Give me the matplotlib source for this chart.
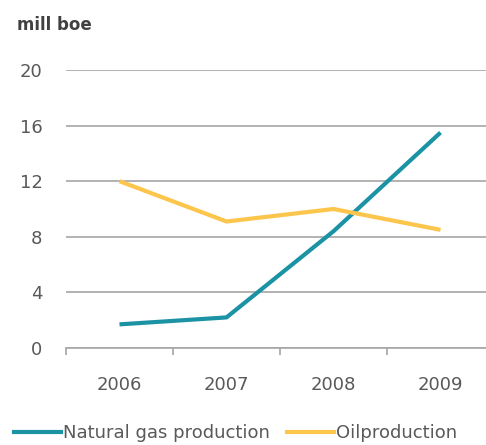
import matplotlib.pyplot as plt
from matplotlib.lines import Line2D

years = ['2006', '2007', '2008', '2009']
gas = [1.7, 2.2, 8.4, 15.5]
oil = [12.0, 9.1, 10.0, 8.5]
yticks = [0, 4, 8, 12, 16, 20]

plt.rcParams['font.family'] = ['DejaVu Sans']

fig = plt.figure(figsize=(4.86, 4.45), dpi=100)
ax = fig.add_axes([0.1358, 0.218, 0.8807, 0.6247])

x = range(len(years))
ax.plot(x, gas, color='#1b93a5', lw=3, solid_capstyle='butt', zorder=3)
ax.plot(x, oil, color='#fcc54c', lw=3, solid_capstyle='butt', zorder=3)

ax.set_xlim(-0.5, 3.5)
ax.set_ylim(0, 20)
ax.set_yticks(yticks)
ax.yaxis.grid(True, color='#a6a6a6', lw=1.2)
ax.set_axisbelow(True)
for s in ['top', 'right', 'left']:
    ax.spines[s].set_visible(False)
ax.spines['bottom'].set_color('#a6a6a6')
ax.spines['bottom'].set_linewidth(1.2)

# category labels centred, tick marks between categories
ax.set_xticks([-0.5, 0.5, 1.5, 2.5])
ax.set_xticklabels([])
ax.set_xticks(list(x), minor=True)
ax.set_xticklabels(years, minor=True)
ax.tick_params(axis='x', which='major', length=5, color='#a6a6a6', width=1.2)
ax.tick_params(axis='x', which='minor', length=0, pad=20, labelsize=13, labelcolor='#595959')
ax.tick_params(axis='y', length=0, pad=17, labelsize=13, labelcolor='#595959')

fig.text(0.035, 0.932, 'mill boe', fontsize=12, fontweight='bold', color='#404040')

handles = [Line2D([], [], color='#1b93a5', lw=3),
           Line2D([], [], color='#fcc54c', lw=3)]
fig.legend(handles, ['Natural gas production', 'Oilproduction'],
           loc='lower left', bbox_to_anchor=(-0.004, -0.03), ncol=2, frameon=False,
           fontsize=13, handlelength=2.6, handletextpad=0.1, columnspacing=0.95,
           labelcolor='#595959')

fig.savefig('out.png', dpi=100)
